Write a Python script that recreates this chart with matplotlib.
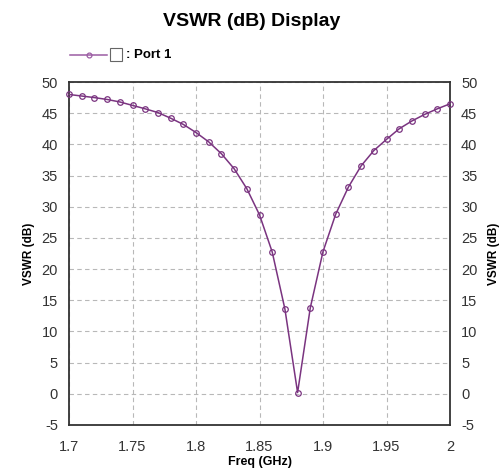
import numpy as np
import matplotlib
matplotlib.use("Agg")
import matplotlib.pyplot as plt
from matplotlib.lines import Line2D

plt.rcParams['font.family'] = ['Liberation Sans', 'DejaVu Sans']
plt.rcParams['axes.unicode_minus'] = False

# данные
freq = [1.70, 1.71, 1.72, 1.73, 1.74, 1.75, 1.76, 1.77, 1.78, 1.79, 1.80,
        1.81, 1.82, 1.83, 1.84, 1.85, 1.86, 1.87, 1.88, 1.89, 1.90,
        1.91, 1.92, 1.93, 1.94, 1.95, 1.96, 1.97, 1.98, 1.99, 2.00]
vswr_db = [48.0, 47.75, 47.5, 47.2, 46.8, 46.25, 45.7, 45.1, 44.2, 43.2, 41.9,
           40.4, 38.5, 36.1, 32.9, 28.7, 22.75, 13.6, 0.2, 13.8, 22.8,
           28.8, 33.15, 36.55, 39.0, 40.8, 42.5, 43.75, 44.8, 45.7, 46.5]
x_ticks = [1.7, 1.75, 1.8, 1.85, 1.9, 1.95, 2.0]
x_tick_labels = ['1.7', '1.75', '1.8', '1.85', '1.9', '1.95', '2']
y_ticks = [-5, 0, 5, 10, 15, 20, 25, 30, 35, 40, 45, 50]

line_c = '#7a3480'

fig = plt.figure(figsize=(5.04, 4.68), dpi=100)
ax = fig.add_axes([69 / 504, 1 - 425 / 468, (450 - 69) / 504, (425 - 82) / 468])

ax.plot(freq, vswr_db, color=line_c, lw=1.1, marker='o', ms=4,
        mfc='none', mec=line_c, mew=0.9, zorder=3, clip_on=False)

ax.set_xlim(1.7, 2.0)
ax.set_ylim(-5, 50)
ax.set_xticks(x_ticks)
ax.set_xticklabels(x_tick_labels)
ax.set_yticks(y_ticks)
ax.grid(True, ls=(0, (4, 3)), color='#b8b8b8', lw=0.8)
ax.tick_params(length=0, labelsize=10.5, colors='#333333')
ax.tick_params(axis='x', pad=11)
ax.tick_params(axis='y', labelright=True, pad=8)
for s in ax.spines.values():
    s.set_color('#333333')
    s.set_linewidth(1.3)

ax.set_xlabel('Freq (GHz)', fontsize=9, weight='bold', labelpad=1)
ax.set_ylabel('VSWR (dB)', fontsize=8.5, weight='bold', labelpad=5)
ax2 = ax.secondary_yaxis('right')
ax2.set_yticks([])
ax2.set_ylabel('VSWR (dB)', fontsize=8.5, weight='bold', labelpad=27)
ax2.spines['right'].set_visible(False)

fig.text(0.5, 1 - 21 / 468, 'VSWR (dB) Display', ha='center', va='center',
         fontsize=14, weight='bold')

# легенда вручную
leg_y = 1 - 55 / 468
fig.add_artist(Line2D([70 / 504, 107 / 504], [leg_y, leg_y], color='#9b5ca3', lw=1.1))
fig.add_artist(Line2D([89 / 504], [leg_y], marker='o', ms=3.5, mfc='none',
                      mec='#9b5ca3', mew=0.9, lw=0))
fig.patches.append(plt.Rectangle((110 / 504, leg_y - 6 / 468), 12 / 504, 13 / 468,
                                 transform=fig.transFigure, fill=True, fc='white',
                                 ec='#666666', lw=0.8))
fig.text(126 / 504, leg_y, ': Port 1', ha='left', va='center', fontsize=9.5, weight='bold')

fig.savefig('out.png', dpi=100)
